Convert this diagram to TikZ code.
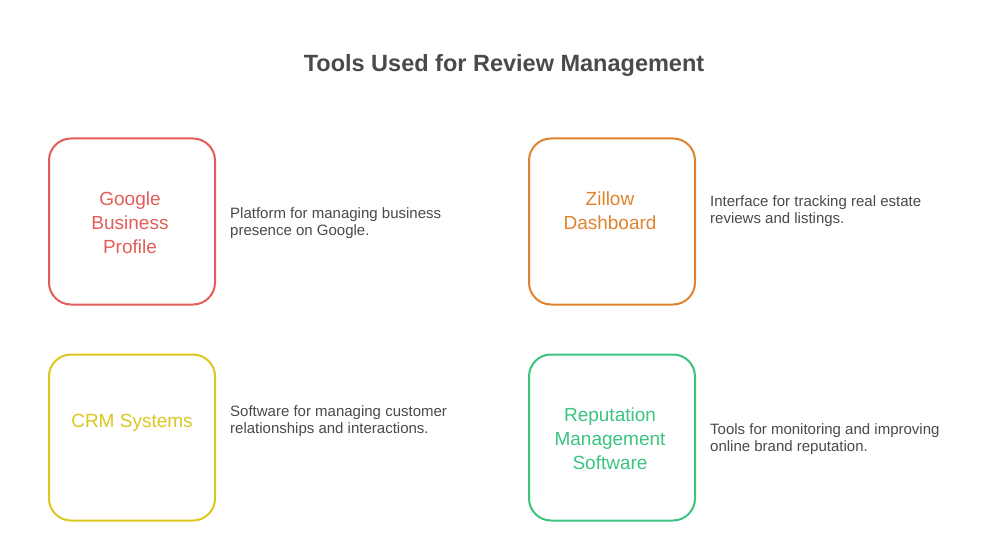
\documentclass[tikz,border=0pt]{standalone}
\usepackage{fontspec}
\setmainfont{Liberation Sans}
\definecolor{cred}{HTML}{E35D5A}
\definecolor{corange}{HTML}{E0832F}
\definecolor{cyellow}{HTML}{DCC620}
\definecolor{cgreen}{HTML}{3CC480}
\definecolor{ctext}{HTML}{4A4A4A}
\begin{document}
\begin{tikzpicture}[x=1pt,y=-1pt,
  toolbox/.style={draw=#1, line width=2pt, rounded corners=22pt, minimum width=166pt, minimum height=166pt, inner sep=0pt},
  tooltext/.style={align=center, text=#1, font=\fontsize{19}{24}\selectfont, inner sep=0pt},
  desc/.style={anchor=west, align=left, text=ctext, font=\fontsize{15}{17}\selectfont, inner sep=0pt}]
\useasboundingbox[fill=white] (0,0) rectangle (1008,548);
\node[font=\bfseries\fontsize{23.5}{28}\selectfont, text=ctext] (title) at (504,65) {Tools Used for Review Management};
\node[toolbox=cred] (g) at (132,221.5) {};
\node[toolbox=corange] (z) at (612,221.5) {};
\node[toolbox=cyellow] (c) at (132,437.5) {};
\node[toolbox=cgreen] (r) at (612,437.5) {};
\node[tooltext=cred] (gt) at (130,223) {Google\\Business\\Profile};
\node[tooltext=corange] (zt) at (610,211) {Zillow\\Dashboard};
\node[tooltext=cyellow] (ct) at (132,423) {CRM Systems};
\node[tooltext=cgreen] (rt) at (610,439) {Reputation\\Management\\Software};
\node[desc] (gd) at (230,223.5) {Platform for managing business\\presence on Google.};
\node[desc] (zd) at (710,211.5) {Interface for tracking real estate\\reviews and listings.};
\node[desc] (cd) at (230,421.5) {Software for managing customer\\relationships and interactions.};
\node[desc] (rd) at (710,439.5) {Tools for monitoring and improving\\online brand reputation.};
\end{tikzpicture}
\end{document}
